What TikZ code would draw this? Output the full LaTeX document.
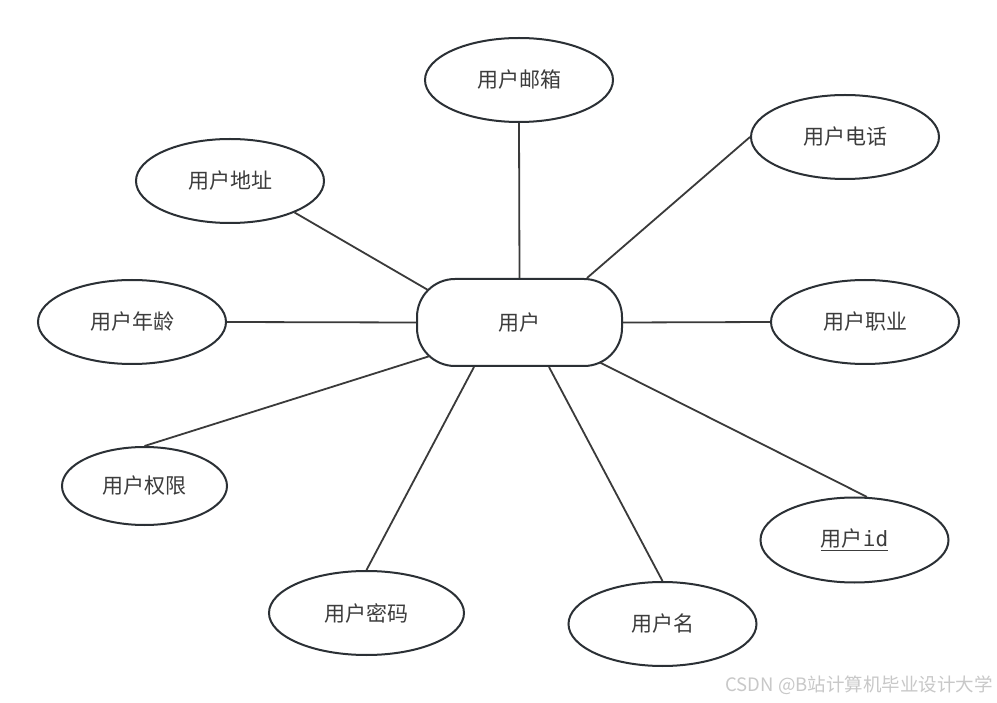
\documentclass[tikz,border=0pt]{standalone}
\usepackage{fontspec}
\setmainfont{Noto Sans CJK SC}
\newfontfamily\cjk{Noto Sans CJK SC}
\newfontfamily\monof{DejaVu Sans Mono}
\newfontfamily\wmfont{Noto Sans CJK SC}
\usetikzlibrary{shapes.geometric,calc}
\definecolor{edgec}{HTML}{2B3035}
\definecolor{linec}{HTML}{3A3A3A}
\definecolor{textc}{HTML}{3C3C3C}
\definecolor{wmc}{HTML}{C8C8C8}
\begin{document}
\begin{tikzpicture}[x=1pt,y=-1pt,
  attr/.style={ellipse,draw=edgec,line width=2pt,fill=white,inner sep=0pt,
    minimum width=188pt,minimum height=84pt,text=textc,
    font=\cjk\fontsize{21}{25}\selectfont},
  entity/.style={rectangle,rounded corners=38pt,draw=edgec,line width=2pt,fill=white,
    minimum width=205pt,minimum height=87pt,inner sep=0pt,text=textc,
    font=\cjk\fontsize{21}{25}\selectfont},
  conn/.style={draw=linec,line width=1.8pt}]
\useasboundingbox (0,0) rectangle (997,703);
\fill[white] (0,0) rectangle (997,703);

\node[entity] (user) at (519.5,322.5) {用户};
\node[attr] (mail) at (519,80) {用户邮箱};
\node[attr] (phone) at (845,137) {用户电话};
\node[attr] (addr) at (230,181) {用户地址};
\node[attr] (age) at (132,322) {用户年龄};
\node[attr] (job) at (865,322) {用户职业};
\node[attr,minimum width=165pt,minimum height=78pt] (perm) at (144.5,486) {用户权限};
\node[attr,minimum height=85pt] (uid) at (854.5,540) {\underline{用户{\monof id}}};
\node[attr,minimum width=195pt] (pwd) at (366.5,613) {用户密码};
\node[attr] (uname) at (662.5,624) {用户名};

\begin{scope}[on background layer/.style={}]
\end{scope}

\draw[conn] (mail.south) -- (user.north);
\draw[conn] (phone.west) -- ([xshift=67.5pt]user.north);
\draw[conn] (addr.-26) -- ([shift={(-91.5,-32.5)}]user.center);
\draw[conn] (age.east) -- (user.west);
\draw[conn] (user.east) -- (job.west);
\draw[conn] (perm.north) -- ([shift={(-89.5,33.5)}]user.center);
\draw[conn] (pwd.north) -- ([xshift=-45.5pt]user.south);
\draw[conn] (uname.north) -- ([xshift=29.5pt]user.south);
\draw[conn] (uid.74) -- ([shift={(80.5,40)}]user.center);

\node[anchor=east,text=wmc,inner sep=0pt,font=\wmfont\fontsize{18.5}{22}\selectfont] (wm) at (993,685) {CSDN @B站计算机毕业设计大学};
\end{tikzpicture}
\end{document}
